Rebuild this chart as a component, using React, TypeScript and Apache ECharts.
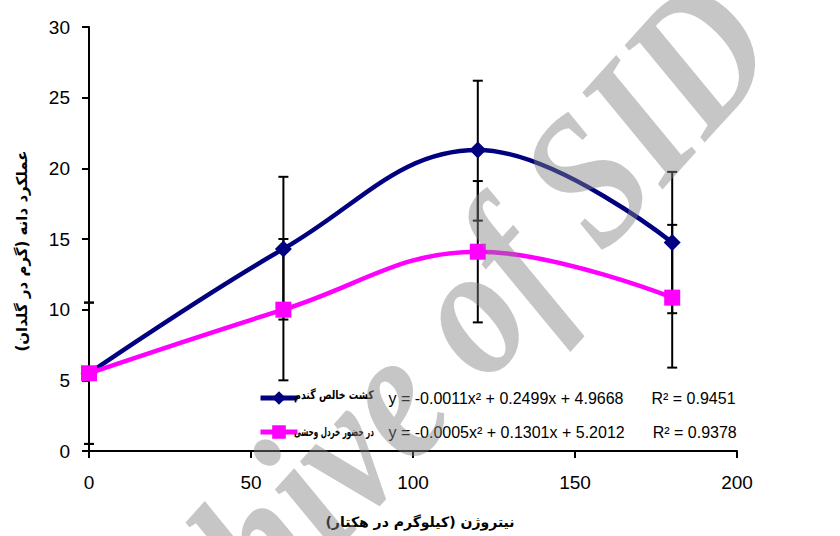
import React, { useEffect, useRef } from "react";
import * as echarts from "echarts";

// Nitrogen rates (kg/ha) and grain yield (g/pot)
const nitrogen = [0, 60, 120, 180];
const pureWheat = [5.5, 14.3, 21.3, 14.75];
const pureWheatLow = [0.5, 9.3, 16.3, 9.75];
const pureWheatHigh = [10.5, 19.4, 26.2, 19.75];
const withMustard = [5.5, 10.0, 14.1, 10.85];
const withMustardLow = [0.5, 5.0, 9.1, 5.9];
const withMustardHigh = [10.5, 15.0, 19.1, 16.0];

const seriesNames = ["کشت خالص گندم", "در حضور خردل وحشی"];
const trendEquations = [
  "y = -0.0011x² + 0.2499x + 4.9668",
  "y = -0.0005x² + 0.1301x + 5.2012",
];
const rSquared = ["R² = 0.9451", "R² = 0.9378"];

// trailing RLM keeps the closing parenthesis inside the right-to-left run
const xAxisTitle = "نیتروژن (کیلوگرم در هکتار)\u200F";
const yAxisTitle = "عملکرد دانه (گرم در گلدان)\u200F";
const watermark = "Archive of SID";

const LATIN = "'Liberation Sans', Arial, sans-serif";
const PERSIAN = "'DejaVu Sans', sans-serif";

// legend layout
const LEGEND_LEFT = 253;
const LEGEND_TOP = 385;
const LEGEND_ROW = 37;
const ICON_W = 37;
const NAME_SLOT = 86;
const NAME_FONT = "bold 12px 'DejaVu Sans'";

function textWidth(text: string, font: string) {
  const ctx = document.createElement("canvas").getContext("2d");
  if (!ctx) return 80;
  ctx.font = font;
  return ctx.measureText(text).width;
}

function errorBars(name: string, low: number[], high: number[]) {
  return {
    type: "custom",
    name,
    z: 1,
    data: nitrogen.map((x, i) => [x, low[i], high[i]]),
    encode: { x: 0, y: [1, 2] },
    renderItem: (_params: any, api: any) => {
      const x = api.value(0);
      const lo = api.coord([x, api.value(1)]);
      const hi = api.coord([x, api.value(2)]);
      const cap = 5;
      const style = { stroke: "#000", lineWidth: 2 };
      return {
        type: "group",
        children: [
          { type: "line", shape: { x1: lo[0], y1: lo[1], x2: hi[0], y2: hi[1] }, style },
          { type: "line", shape: { x1: lo[0] - cap, y1: lo[1], x2: lo[0] + cap, y2: lo[1] }, style },
          { type: "line", shape: { x1: hi[0] - cap, y1: hi[1], x2: hi[0] + cap, y2: hi[1] }, style },
        ],
      };
    },
  };
}

export default function App() {
  const ref = useRef<HTMLDivElement>(null);

  useEffect(() => {
    if (!ref.current) return;
    const chart = echarts.init(ref.current, null, { renderer: "svg" });
    const axisLine = { show: true, lineStyle: { color: "#000", width: 2 } };
    const axisTick = { show: true, length: 7, lineStyle: { color: "#000", width: 2 } };

    // Persian series names sit between the legend icon and the equation,
    // squeezed horizontally to fit the slot
    const nameLabels = seriesNames.map((name, i) => {
      const w = textWidth(name, NAME_FONT);
      return {
        type: "text",
        z: 60,
        x: LEGEND_LEFT + ICON_W + 4,
        y: LEGEND_TOP + 10 + i * LEGEND_ROW,
        scaleX: Math.min(1, (NAME_SLOT - 6) / w),
        silent: true,
        style: {
          text: name,
          align: "left",
          verticalAlign: "middle",
          fontFamily: PERSIAN,
          fontWeight: "bold",
          fontSize: 12,
          fill: "#000",
        },
      };
    });

    chart.setOption({
      animation: false,
      backgroundColor: "#fff",
      grid: { left: 89, right: 103, top: 27, bottom: 85, outerBoundsMode: "none" },
      xAxis: {
        type: "value",
        min: 0,
        max: 200,
        interval: 50,
        splitLine: { show: false },
        axisLine,
        axisTick,
        axisLabel: { color: "#000", fontSize: 19, fontFamily: LATIN, margin: 22 },
      },
      yAxis: {
        type: "value",
        min: 0,
        max: 30,
        interval: 5,
        splitLine: { show: false },
        axisLine,
        axisTick,
        axisLabel: { color: "#000", fontSize: 19, fontFamily: LATIN, margin: 19 },
      },
      legend: {
        data: seriesNames,
        orient: "vertical",
        left: LEGEND_LEFT,
        top: LEGEND_TOP,
        itemGap: 18,
        itemWidth: ICON_W,
        itemHeight: 17,
        lineStyle: { width: 5 },
        formatter: (name: string) => {
          const i = seriesNames.indexOf(name);
          return `{sp|\u00A0}{eq|${trendEquations[i]}}{r|${rSquared[i]}}`;
        },
        textStyle: {
          color: "#000",
          rich: {
            sp: { fontFamily: LATIN, fontSize: 16, width: NAME_SLOT },
            eq: { fontFamily: LATIN, fontSize: 16, color: "#000" },
            r: { fontFamily: LATIN, fontSize: 16, color: "#000", padding: [0, 0, 0, 28] },
          },
        },
      },
      series: [
        errorBars("pureWheatErr", pureWheatLow, pureWheatHigh),
        errorBars("withMustardErr", withMustardLow, withMustardHigh),
        {
          type: "line",
          name: seriesNames[0],
          z: 3,
          data: nitrogen.map((x, i) => [x, pureWheat[i]]),
          smooth: 0.4,
          symbol: "diamond",
          symbolSize: 17,
          lineStyle: { color: "#000080", width: 4.5 },
          itemStyle: { color: "#000080" },
        },
        {
          type: "line",
          name: seriesNames[1],
          z: 4,
          data: nitrogen.map((x, i) => [x, withMustard[i]]),
          smooth: 0.4,
          symbol: "rect",
          symbolSize: 16,
          lineStyle: { color: "#ff00ff", width: 4.5 },
          itemStyle: { color: "#ff00ff" },
        },
      ],
      graphic: [
        ...nameLabels,
        {
          type: "text",
          z: 50,
          x: 420,
          y: 522,
          silent: true,
          style: {
            text: xAxisTitle,
            align: "center",
            verticalAlign: "middle",
            fontFamily: PERSIAN,
            fontWeight: "bold",
            fontSize: 14,
            fill: "#000",
          },
        },
        {
          type: "text",
          z: 50,
          x: 22,
          y: 251,
          rotation: Math.PI / 2,
          silent: true,
          style: {
            text: yAxisTitle,
            align: "center",
            verticalAlign: "middle",
            fontFamily: PERSIAN,
            fontWeight: "bold",
            fontSize: 15,
            fill: "#000",
          },
        },
        {
          type: "text",
          z: 100,
          x: 736,
          y: 12,
          rotation: (48 * Math.PI) / 180,
          scaleX: 0.85,
          silent: true,
          style: {
            text: watermark,
            align: "right",
            verticalAlign: "middle",
            fontFamily: "'Liberation Serif', serif",
            fontStyle: "italic",
            fontWeight: "bold",
            fontSize: 190,
            fill: "rgba(128,128,128,0.45)",
          },
        },
      ],
    });

    return () => chart.dispose();
  }, []);

  return (
    <div
      ref={ref}
      style={{ position: "fixed", left: 0, top: 0, width: 840, height: 536 }}
    />
  );
}
